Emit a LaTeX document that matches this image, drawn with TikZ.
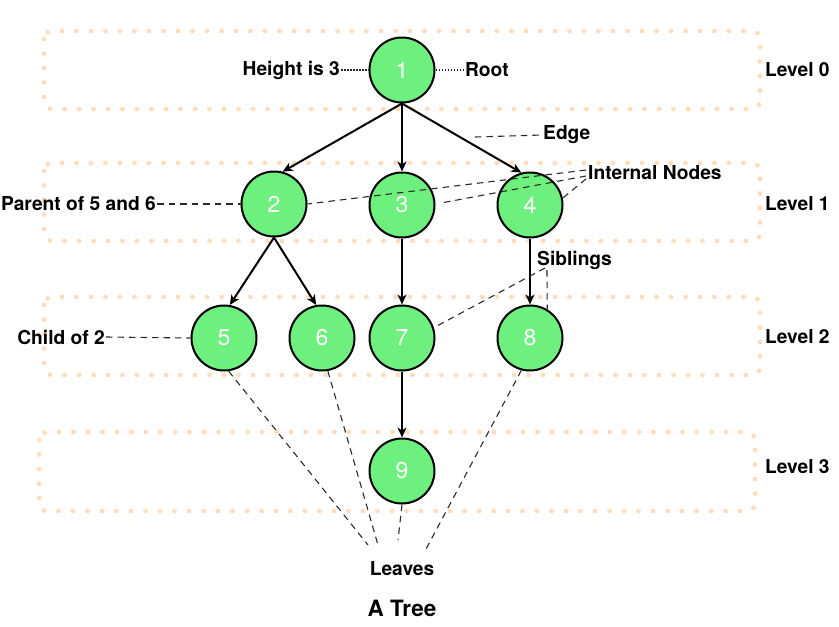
\documentclass[tikz,border=0pt]{standalone}
\usepackage{fontspec}
\setmainfont{TeX Gyre Heros}
\usetikzlibrary{arrows.meta}
\definecolor{nodegreen}{HTML}{6EF07E}
\definecolor{peach}{HTML}{FFDDBA}
\definecolor{dashgray}{HTML}{2A2A2A}
\begin{document}
\begin{tikzpicture}[x=1pt,y=-1pt,
  treenode/.style={circle,draw=black,line width=2pt,fill=nodegreen,minimum size=65pt,inner sep=0pt,
    text=white,font=\fontsize{23}{23}\selectfont},
  lbl/.style={inner sep=1pt,font=\fontsize{19.2}{19.2}\selectfont\bfseries},
  levelbox/.style={draw=peach,line width=4.8pt,line cap=round,dash pattern=on 0pt off 14.5pt,rounded corners=8pt},
  tedge/.style={line width=2pt,-{Stealth[length=10pt,width=9pt,inset=3pt]}},
  dashln/.style={draw=dashgray,line width=1.1pt,dash pattern=on 6.5pt off 5pt},
  dotl/.style={draw=dashgray,line width=1.1pt,dash pattern=on 1.5pt off 1.5pt}]
\useasboundingbox (0,0) rectangle (839,627);

% level boxes
\draw[levelbox] (44,31) rectangle (760,109);
\draw[levelbox] (44,163) rectangle (760,241);
\draw[levelbox] (44,297) rectangle (760,375);
\draw[levelbox] (39,432) rectangle (755,511);

% nodes
\node[treenode] (n1) at (402,70) {1};
\node[treenode] (n2) at (274,204) {2};
\node[treenode] (n3) at (402,205) {3};
\node[treenode] (n4) at (530,205) {4};
\node[treenode] (n5) at (224,338) {5};
\node[treenode] (n6) at (322,338) {6};
\node[treenode] (n7) at (402,338) {7};
\node[treenode] (n8) at (530,338) {8};
\node[treenode] (n9) at (402,471) {9};

% edges
\draw[tedge] (n1.south) -- (n2.75);
\draw[tedge] (n1.south) -- (n3.north);
\draw[tedge] (n1.south) -- (n4.105);
\draw[tedge] (n2.south) -- (n5.80);
\draw[tedge] (n2.south) -- (n6.100);
\draw[tedge] (n3.south) -- (n7.north);
\draw[tedge] (n4.south) -- (n8.north);
\draw[tedge] (n7.south) -- (n9.north);

% labels
\node[lbl,anchor=east] (height) at (341,70) {Height is 3};
\node[lbl,anchor=west] (root) at (464,70) {Root};
\node[lbl,anchor=west] (edge) at (542,135) {Edge};
\node[lbl,anchor=west] (internal) at (587,173) {Internal Nodes};
\node[lbl,anchor=west] (sib) at (536,260) {Siblings};
\node[lbl,anchor=east] (parent) at (157,204) {Parent of 5 and 6};
\node[lbl,anchor=east] (child) at (106,337) {Child of 2};
\node[lbl] (leaves) at (402,569) {Leaves};
\node[inner sep=1pt,font=\fontsize{22.5}{22.5}\selectfont\bfseries] (title) at (402,608) {A Tree};
\node[lbl,anchor=west] (l0) at (764,70) {Level 0};
\node[lbl,anchor=west] (l1) at (764,204) {Level 1};
\node[lbl,anchor=west] (l2) at (764,337) {Level 2};
\node[lbl,anchor=west] (l3) at (764,467) {Level 3};

% annotation lines
\draw[dotl] (height.east) -- (n1.west);
\draw[dotl] (n1.east) -- (root.west);
\coordinate (edgeend) at (475,137);
\draw[dashln] (edgeend) -- (edge.west);
\coordinate (in1) at (586,170);
\coordinate (in2) at (586,176);
\coordinate (in3) at (586,179);
\coordinate (n3r) at (441,203);
\draw[dashln] (in1) -- (n2.east);
\draw[dashln] (in2) -- (n3r);
\draw[dashln] (in3) -- (n4.12);
\coordinate (sib1) at (545,268);
\coordinate (sib2) at (547,270);
\draw[dashln] (sib1) -- (n7.18);
\draw[dashln] (sib2) -- (n8.59);
\draw[dashln] (parent.east) -- (n2.west);
\draw[dashln] (child.east) -- (n5.west);
\coordinate (lv5) at (368,545);
\coordinate (lv6) at (378,545);
\coordinate (lv9) at (398,540);
\coordinate (lv8) at (425,551);
\draw[dashln] (n5.-82) -- (lv5);
\draw[dashln] (n6.-80) -- (lv6);
\draw[dashln] (n9.south) -- (lv9);
\draw[dashln] (n8.-105) -- (lv8);
\end{tikzpicture}
\end{document}
